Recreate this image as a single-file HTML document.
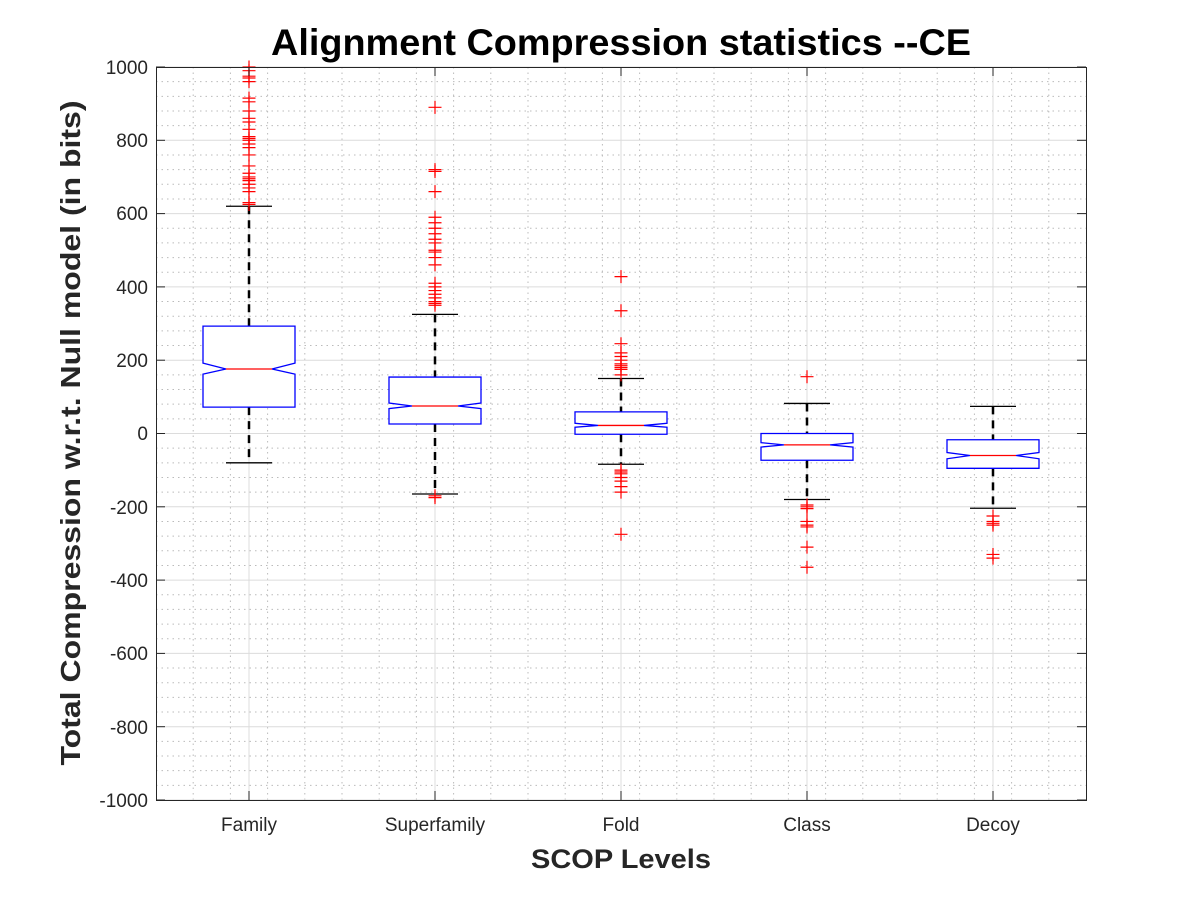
<!DOCTYPE html>
<html><head><meta charset="utf-8"><style>
html,body{margin:0;padding:0;background:#fff;width:1200px;height:900px;overflow:hidden}
text{font-family:"Liberation Sans",Arial,sans-serif;fill:#262626}
</style></head><body>
<svg id="s" width="1200" height="900" xmlns="http://www.w3.org/2000/svg">
<rect x="0" y="0" width="1200" height="900" fill="#fff"/>
<g id="grid"></g>
<g id="boxes"></g>
<rect x="156.5" y="67.5" width="930" height="733" fill="none" stroke="#262626" stroke-width="1"/>
<g id="ticks"></g>
<text x="621" y="55" font-size="37" font-weight="bold" text-anchor="middle" textLength="700" lengthAdjust="spacingAndGlyphs" style="fill:#000">Alignment Compression statistics --CE</text>
<text x="621" y="868" font-size="27" font-weight="bold" text-anchor="middle" textLength="180" lengthAdjust="spacingAndGlyphs">SCOP Levels</text>
<text transform="translate(80,433) rotate(-90)" font-size="28" font-weight="bold" text-anchor="middle" textLength="665" lengthAdjust="spacingAndGlyphs">Total Compression w.r.t. Null model (in bits)</text>
<g font-size="19" text-anchor="end">
<text x="148" y="74">1000</text><text x="148" y="147">800</text><text x="148" y="220">600</text><text x="148" y="294">400</text><text x="148" y="367">200</text><text x="148" y="440">0</text><text x="148" y="514">-200</text><text x="148" y="587">-400</text><text x="148" y="660">-600</text><text x="148" y="734">-800</text><text x="148" y="807">-1000</text>
</g>
<g font-size="19" text-anchor="middle">
<text x="249" y="831">Family</text><text x="435" y="831">Superfamily</text><text x="621" y="831">Fold</text><text x="807" y="831">Class</text><text x="993" y="831">Decoy</text>
</g>
</svg>
<script>
const NS="http://www.w3.org/2000/svg";
function el(p,t,a){const e=document.createElementNS(NS,t);for(const k in a)e.setAttribute(k,a[k]);p.appendChild(e);return e;}
const Y=v=>433.5-v*0.3665;
const g=document.getElementById('grid'),b=document.getElementById('boxes'),tk=document.getElementById('ticks');
for(let v=-1000;v<=1000;v+=40){if(v%200!==0)el(g,'line',{x1:156,x2:1086,y1:Y(v),y2:Y(v),stroke:'#bbb','stroke-width':1,'stroke-dasharray':'1.5,4'});}
for(let x=156+37.2;x<1086;x+=37.2){if(Math.abs(((x-249)%186+186)%186)>2&&Math.abs(((x-249)%186+186)%186-186)>2)el(g,'line',{x1:x,x2:x,y1:67,y2:800,stroke:'#bbb','stroke-width':1,'stroke-dasharray':'1.5,4'});}
for(let v=-1000;v<=1000;v+=200){el(g,'line',{x1:156,x2:1086,y1:Y(v),y2:Y(v),stroke:'#dcdcdc','stroke-width':1});
el(tk,'line',{x1:156,x2:165,y1:Y(v),y2:Y(v),stroke:'#262626'});el(tk,'line',{x1:1077,x2:1086,y1:Y(v),y2:Y(v),stroke:'#262626'});}
const cs=[249,435,621,807,993];
cs.forEach(c=>{el(g,'line',{x1:c,x2:c,y1:67,y2:800,stroke:'#dcdcdc'});el(tk,'line',{x1:c,x2:c,y1:800,y2:791,stroke:'#262626'});el(tk,'line',{x1:c,x2:c,y1:67,y2:76,stroke:'#262626'});});
const D=[
{q3:293,q1:72,m:176,nt:192,nb:162,wt:620,wb:-80,o:[625,630,660,670,680,690,695,700,710,730,760,780,790,800,805,810,830,850,860,880,905,915,960,970,975,990,1000]},
{q3:154,q1:26,m:75,nt:83,nb:68,wt:325,wb:-165,o:[350,355,360,370,380,390,400,410,460,480,495,500,520,530,545,560,575,590,660,715,720,890,-170,-175]},
{q3:59,q1:-2,m:22,nt:28,nb:17,wt:150,wb:-84,o:[160,175,180,185,190,200,210,220,245,335,428,-100,-105,-110,-120,-130,-145,-160,-275]},
{q3:0,q1:-73,m:-31,nt:-25,nb:-37,wt:82,wb:-180,o:[155,-195,-200,-205,-240,-250,-255,-310,-365]},
{q3:-17,q1:-95,m:-60,nt:-52,nb:-69,wt:74,wb:-204,o:[-225,-240,-245,-250,-330,-340]}];
D.forEach((d,i)=>{const c=cs[i],h=46,n=23;
el(b,'line',{x1:c,x2:c,y1:Y(d.wt),y2:Y(d.q3),stroke:'#000','stroke-width':2.5,'stroke-dasharray':'8,6'});
el(b,'line',{x1:c,x2:c,y1:Y(d.q1),y2:Y(d.wb),stroke:'#000','stroke-width':2.5,'stroke-dasharray':'8,6'});
el(b,'line',{x1:c-23,x2:c+23,y1:Y(d.wt),y2:Y(d.wt),stroke:'#000','stroke-width':1.3});
el(b,'line',{x1:c-23,x2:c+23,y1:Y(d.wb),y2:Y(d.wb),stroke:'#000','stroke-width':1.3});
const L=c-h,R=c+h;
const p=[[L,Y(d.q3)],[R,Y(d.q3)],[R,Y(d.nt)],[R-n,Y(d.m)],[R,Y(d.nb)],[R,Y(d.q1)],[L,Y(d.q1)],[L,Y(d.nb)],[L+n,Y(d.m)],[L,Y(d.nt)]];
el(b,'polygon',{points:p.map(q=>q.join(',')).join(' '),fill:'#fff',stroke:'#0000ff','stroke-width':1.3});
el(b,'line',{x1:L+n,x2:R-n,y1:Y(d.m),y2:Y(d.m),stroke:'#ff0000','stroke-width':1.3});
d.o.forEach(v=>{const y=Y(v);el(b,'path',{d:`M${c-6.5},${y}H${c+6.5}M${c},${y-6.5}V${y+6.5}`,stroke:'#ff0000','stroke-width':1.2,fill:'none'});});
});
</script>
</body></html>
